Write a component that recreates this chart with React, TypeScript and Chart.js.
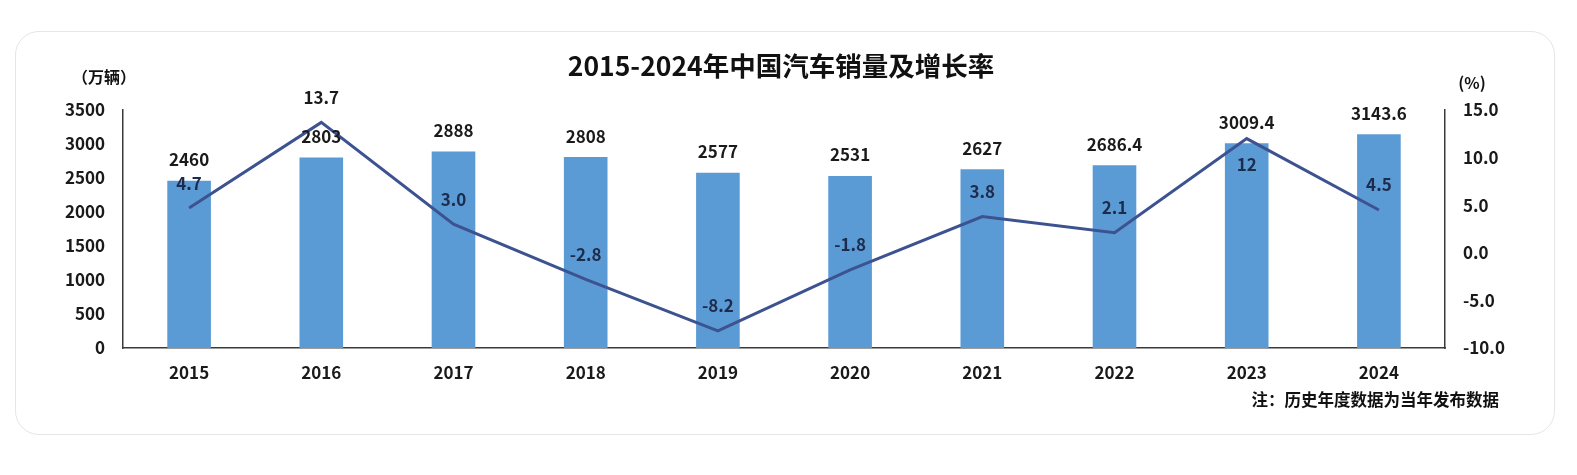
import React, { useEffect, useRef } from "react";
import { Chart, registerables } from "chart.js";

Chart.register(...registerables);

const years = ["2015", "2016", "2017", "2018", "2019", "2020", "2021", "2022", "2023", "2024"];
const sales = [2460, 2803, 2888, 2808, 2577, 2531, 2627, 2686.4, 3009.4, 3143.6];
const salesLabels = ["2460", "2803", "2888", "2808", "2577", "2531", "2627", "2686.4", "3009.4", "3143.6"];
const growth = [4.7, 13.7, 3.0, -2.8, -8.2, -1.8, 3.8, 2.1, 12, 4.5];
const growthLabels = ["4.7", "13.7", "3.0", "-2.8", "-8.2", "-1.8", "3.8", "2.1", "12", "4.5"];

const FONT = "'Noto Sans CJK SC', 'Noto Sans', sans-serif";
const BAR_COLOR = "#5b9bd5";
const LINE_COLOR = "#3d5290";
const AXIS_COLOR = "#3a3a3a";

const W = 1577;
const H = 475;

const labelsPlugin = {
  id: "labelsPlugin",
  afterDatasetsDraw(chart: any) {
    const ctx = chart.ctx as CanvasRenderingContext2D;
    const lineMeta = chart.getDatasetMeta(0);
    const barMeta = chart.getDatasetMeta(1);
    ctx.save();
    ctx.textAlign = "center";
    ctx.textBaseline = "middle";
    ctx.font = `bold 17px ${FONT}`;
    const barLabelY: number[] = [];
    barMeta.data.forEach((bar: any, i: number) => {
      const y = bar.y - 21;
      barLabelY.push(y);
      ctx.fillStyle = "#1a1a1a";
      ctx.fillText(salesLabels[i], bar.x, y);
    });
    lineMeta.data.forEach((pt: any, i: number) => {
      let y = pt.y - 25;
      if (Math.abs(y - barLabelY[i]) < 18) y = pt.y + 26;
      ctx.fillStyle = i === 1 ? "#1a1a1a" : "#1d2b4c";
      ctx.fillText(growthLabels[i], pt.x, y);
    });
    ctx.restore();
  },
  afterDraw(chart: any) {
    const ctx = chart.ctx as CanvasRenderingContext2D;
    const area = chart.chartArea;
    ctx.save();
    ctx.fillStyle = "#111";
    ctx.textBaseline = "middle";
    ctx.textAlign = "center";
    ctx.font = `bold 26.5px ${FONT}`;
    ctx.fillText("2015-2024年中国汽车销量及增长率", (area.left + area.right) / 2 - 3, 66);
    ctx.font = `bold 16px ${FONT}`;
    ctx.fillText("（万辆）", 104, 77);
    ctx.fillText("(%)", 1472, 83);
    ctx.textAlign = "right";
    ctx.font = `bold 16.5px ${FONT}`;
    ctx.fillText("注：历史年度数据为当年发布数据", 1499, 400);
    ctx.restore();
  },
};

export default function App() {
  const ref = useRef<HTMLCanvasElement | null>(null);
  useEffect(() => {
    if (!ref.current) return;
    const tickFont = { family: FONT, size: 17, weight: "bold" as const };
    const chart = new Chart(ref.current, {
      type: "bar",
      data: {
        labels: years,
        datasets: [
          {
            type: "line",
            label: "增长率",
            data: growth,
            yAxisID: "y1",
            borderColor: LINE_COLOR,
            borderWidth: 3,
            pointRadius: 0,
            tension: 0,
            fill: false,
          } as any,
          {
            type: "bar",
            label: "销量",
            data: sales,
            yAxisID: "y",
            backgroundColor: BAR_COLOR,
            barPercentage: 0.33,
            categoryPercentage: 1,
          },
        ],
      },
      plugins: [labelsPlugin],
      options: {
        responsive: false,
        animation: false,
        layout: { padding: { top: 110, left: 0, right: 0, bottom: 0 } },
        plugins: { legend: { display: false }, tooltip: { enabled: false }, title: { display: false } },
        scales: {
          x: {
            type: "category",
            offset: true,
            grid: { display: false, drawTicks: false },
            border: { display: true, color: AXIS_COLOR, width: 1.5 },
            ticks: { font: tickFont, color: "#1a1a1a", padding: 14 },
            afterFit: (s: any) => {
              s.height = H - 348;
            },
          },
          y: {
            position: "left",
            min: 0,
            max: 3500,
            grid: { display: false, drawTicks: false },
            border: { display: true, color: AXIS_COLOR, width: 1.5 },
            ticks: {
              stepSize: 500,
              font: tickFont,
              color: "#1a1a1a",
              padding: 18,
              callback: (v: any) => String(v),
            },
            afterFit: (s: any) => {
              s.width = 123;
            },
          },
          y1: {
            position: "right",
            min: -10,
            max: 15,
            grid: { display: false, drawTicks: false },
            border: { display: true, color: AXIS_COLOR, width: 1.5 },
            ticks: {
              stepSize: 5,
              font: tickFont,
              color: "#1a1a1a",
              padding: 18,
              callback: (v: any) => Number(v).toFixed(1),
            },
            afterFit: (s: any) => {
              s.width = W - 1445;
            },
          },
        },
      } as any,
    });
    return () => chart.destroy();
  }, []);

  return (
    <div style={{ position: "absolute", left: 0, top: 0, width: W, height: H, background: "#fff" }}>
      <div
        style={{
          position: "absolute",
          left: 15,
          top: 31,
          width: 1540,
          height: 404,
          border: "1px solid #e6e6e6",
          borderRadius: 24,
          boxSizing: "border-box",
        }}
      />
      <canvas ref={ref} width={W} height={H} style={{ position: "absolute", left: 0, top: 0 }} />
    </div>
  );
}
